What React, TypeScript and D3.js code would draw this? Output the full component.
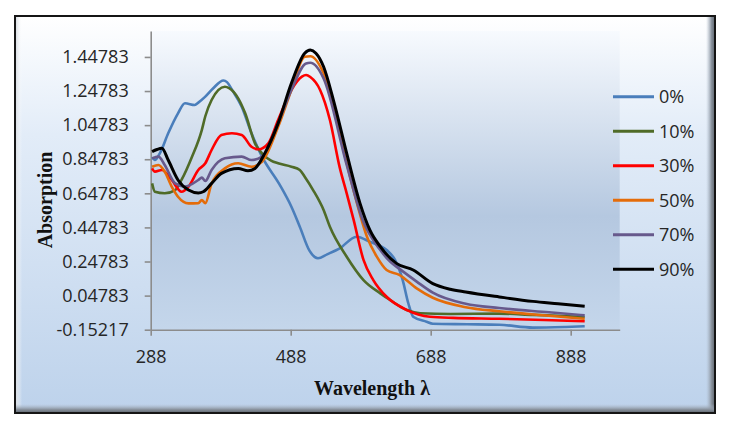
import React, { useRef, useEffect } from 'react';
import * as d3 from 'd3';

type Pt = [number, number];

// wavelength (nm) -> absorption
const abs0: Pt[] = [
  [290, 0.86], [294, 0.843], [301, 0.882], [313, 1.0], [327, 1.117], [337, 1.176], [351, 1.166],
  [356, 1.18], [366, 1.215], [377, 1.263], [392, 1.31], [397, 1.3],
  [405, 1.25], [418, 1.156], [432, 1.0], [447, 0.863], [472, 0.7], [489, 0.569], [501, 0.452],
  [515, 0.31], [527, 0.267], [540, 0.29], [558, 0.325], [582, 0.393], [601, 0.364], [625, 0.315],
  [637, 0.257], [648, 0.139], [656, 0.003], [663, -0.076], [682, -0.105], [691, -0.117],
  [740, -0.12], [786, -0.123], [834, -0.14], [881, -0.136], [908, -0.132],
];
const abs10: Pt[] = [
  [290, 0.706], [294, 0.657], [308, 0.648], [323, 0.667], [332, 0.726], [347, 0.862], [361, 1.019],
  [366, 1.1], [375, 1.195], [394, 1.273], [400, 1.265], [413, 1.205],
  [423, 1.117], [437, 0.941], [449, 0.873], [460, 0.84], [470, 0.824], [489, 0.804], [501, 0.785],
  [508, 0.745], [520, 0.667], [535, 0.55], [544, 0.452], [568, 0.276], [592, 0.139], [616, 0.061],
  [630, 0.022], [654, -0.037], [673, -0.056], [716, -0.06], [786, -0.058], [834, -0.065],
  [870, -0.07], [908, -0.078],
];
const abs30: Pt[] = [
  [290, 0.794], [294, 0.775], [304, 0.785], [318, 0.726], [332, 0.657], [342, 0.687], [356, 0.785],
  [366, 0.824], [375, 0.902], [389, 0.99], [404, 1.0], [418, 0.99], [432, 0.921],
  [442, 0.906], [456, 0.941], [470, 1.078], [489, 1.254], [504, 1.332], [510, 1.342], [516, 1.33],
  [530, 1.254], [544, 1.078], [558, 0.8], [568, 0.648], [578, 0.491], [592, 0.257], [606, 0.139],
  [625, 0.041], [654, -0.037], [687, -0.076], [720, -0.083], [786, -0.088], [850, -0.095],
  [908, -0.103],
];
const abs50: Pt[] = [
  [290, 0.804], [299, 0.814], [308, 0.775], [318, 0.687], [327, 0.628], [342, 0.589], [356, 0.59],
  [361, 0.608], [366, 0.59], [375, 0.706], [394, 0.794], [413, 0.824], [432, 0.804], [447, 0.833],
  [470, 1.038], [489, 1.254], [508, 1.449], [516, 1.452], [535, 1.352], [568, 0.824], [582, 0.6],
  [597, 0.393], [611, 0.276], [625, 0.198], [643, 0.17], [668, 0.09], [691, 0.035], [738, -0.02],
  [786, -0.044], [857, -0.07], [908, -0.088],
];
const abs70: Pt[] = [
  [290, 0.853], [299, 0.863], [308, 0.814], [323, 0.706], [337, 0.687], [356, 0.726], [361, 0.74],
  [366, 0.72], [375, 0.785], [394, 0.853], [418, 0.863], [432, 0.843], [447, 0.863], [470, 1.058],
  [489, 1.254], [510, 1.41], [516, 1.414], [535, 1.322], [568, 0.814], [590, 0.5], [616, 0.315],
  [630, 0.247], [643, 0.206], [668, 0.13], [691, 0.065], [738, 0.0], [786, -0.025], [857, -0.05],
  [908, -0.068],
];
const abs90: Pt[] = [
  [290, 0.892], [297, 0.905], [304, 0.912], [313, 0.843], [327, 0.726], [342, 0.667], [356, 0.65],
  [363, 0.657], [375, 0.706], [389, 0.765], [413, 0.794], [427, 0.78], [437, 0.794],
  [451, 0.882], [470, 1.058], [489, 1.293], [508, 1.469], [516, 1.488], [524, 1.47], [535, 1.39],
  [549, 1.195], [568, 0.882], [587, 0.589], [601, 0.433], [616, 0.335], [639, 0.237], [663, 0.198],
  [691, 0.118], [716, 0.085], [738, 0.069], [786, 0.04], [834, 0.014], [870, 0.0], [908, -0.015],
];

const seriesData = [abs0, abs10, abs30, abs50, abs70, abs90];
const seriesNames = ['0%', '10%', '30%', '50%', '70%', '90%'];
const seriesColors = ['#4A7EBB', '#4F6B28', '#FF0000', '#E46C0A', '#67598C', '#000000'];

const xTicks = [288, 488, 688, 888];
const yTicks = [-0.15217, 0.04783, 0.24783, 0.44783, 0.64783, 0.84783, 1.04783, 1.24783, 1.44783];
const xDomain: Pt = [288, 958];
const yDomain: Pt = [-0.15217, 1.6];

const W = 732;
const H = 424;

export default function App() {
  const svgRef = useRef<SVGSVGElement>(null);

  useEffect(() => {
    if (!svgRef.current) return;
    const svg = d3.select(svgRef.current);
    svg.selectAll('*').remove();

    const plot = { left: 150.7, top: 31, right: 619.7, bottom: 329.7 };
    const frame = { x: 15, y: 16, w: 700, h: 397 };

    const defs = svg.append('defs');
    const outerGrad = defs.append('linearGradient').attr('id', 'outerGrad')
      .attr('x1', 0).attr('y1', 0).attr('x2', 0).attr('y2', 1);
    outerGrad.append('stop').attr('offset', '0%').attr('stop-color', '#FFFFFF');
    outerGrad.append('stop').attr('offset', '30%').attr('stop-color', '#E2ECF8');
    outerGrad.append('stop').attr('offset', '100%').attr('stop-color', '#BDD2EB');

    const plotGrad = defs.append('linearGradient').attr('id', 'plotGrad')
      .attr('x1', 0).attr('y1', 0).attr('x2', 0).attr('y2', 1);
    plotGrad.append('stop').attr('offset', '0%').attr('stop-color', '#F7FAFE');
    plotGrad.append('stop').attr('offset', '62%').attr('stop-color', '#B5C8E0');
    plotGrad.append('stop').attr('offset', '100%').attr('stop-color', '#C4D6EB');

    const bevelR = defs.append('linearGradient').attr('id', 'bevelR')
      .attr('x1', 0).attr('y1', 0).attr('x2', 1).attr('y2', 0);
    bevelR.append('stop').attr('offset', '0%').attr('stop-color', '#AEBBCB').attr('stop-opacity', 0);
    bevelR.append('stop').attr('offset', '60%').attr('stop-color', '#8A939E');
    bevelR.append('stop').attr('offset', '100%').attr('stop-color', '#5C636B');

    const bevelB = defs.append('linearGradient').attr('id', 'bevelB')
      .attr('x1', 0).attr('y1', 0).attr('x2', 0).attr('y2', 1);
    bevelB.append('stop').attr('offset', '0%').attr('stop-color', '#AEBBCB').attr('stop-opacity', 0);
    bevelB.append('stop').attr('offset', '60%').attr('stop-color', '#8A939E');
    bevelB.append('stop').attr('offset', '100%').attr('stop-color', '#5C636B');

    const bevelL = defs.append('linearGradient').attr('id', 'bevelL')
      .attr('x1', 0).attr('y1', 0).attr('x2', 1).attr('y2', 0);
    bevelL.append('stop').attr('offset', '0%').attr('stop-color', '#D9DEE4');
    bevelL.append('stop').attr('offset', '100%').attr('stop-color', '#FFFFFF').attr('stop-opacity', 0);

    svg.append('rect').attr('width', W).attr('height', H).attr('fill', '#FFFFFF');

    // chart frame with bevel
    svg.append('rect').attr('x', frame.x).attr('y', frame.y).attr('width', frame.w).attr('height', frame.h)
      .attr('fill', 'url(#outerGrad)');
    svg.append('rect').attr('x', frame.x + 1).attr('y', frame.y).attr('width', 6).attr('height', frame.h)
      .attr('fill', 'url(#bevelL)');
    svg.append('rect').attr('x', frame.x + frame.w - 9).attr('y', frame.y).attr('width', 9).attr('height', frame.h)
      .attr('fill', 'url(#bevelR)');
    svg.append('rect').attr('x', frame.x).attr('y', frame.y + frame.h - 9).attr('width', frame.w).attr('height', 9)
      .attr('fill', 'url(#bevelB)');
    svg.append('rect').attr('x', frame.x).attr('y', frame.y).attr('width', frame.w).attr('height', frame.h)
      .attr('fill', 'none').attr('stroke', '#151515').attr('stroke-width', 2);

    // plot area
    svg.append('rect').attr('x', plot.left).attr('y', plot.top)
      .attr('width', plot.right - plot.left).attr('height', plot.bottom - plot.top)
      .attr('fill', 'url(#plotGrad)');

    const x = d3.scaleLinear().domain(xDomain).range([plot.left, plot.right]);
    const y = d3.scaleLinear().domain(yDomain).range([plot.bottom, plot.top]);

    const tickFont = '"Open Sans", sans-serif';

    const yAxis = svg.append('g').attr('transform', `translate(${plot.left},0)`)
      .call(d3.axisLeft(y).tickValues(yTicks).tickSize(6).tickSizeOuter(0).tickPadding(16)
        .tickFormat((d) => (d as number).toFixed(5)));
    const xAxis = svg.append('g').attr('transform', `translate(0,${plot.bottom})`)
      .call(d3.axisBottom(x).tickValues(xTicks).tickSize(6).tickSizeOuter(0).tickPadding(15)
        .tickFormat((d) => String(d)));

    [yAxis, xAxis].forEach((ax) => {
      ax.select('.domain').attr('stroke', '#8C8C8C').attr('stroke-width', 1.6);
      ax.selectAll('.tick line').attr('stroke', '#8C8C8C').attr('stroke-width', 1.6);
      ax.selectAll('.tick text').attr('fill', '#262626').style('font-family', tickFont).style('font-size', '18px');
    });

    // series lines
    const line = d3.line<Pt>()
      .x((d) => x(d[0]))
      .y((d) => y(d[1]))
      .curve(d3.curveMonotoneX);

    seriesData.forEach((data, i) => {
      svg.append('path')
        .datum(data)
        .attr('fill', 'none')
        .attr('stroke', seriesColors[i])
        .attr('stroke-width', i === 5 ? 3 : 2.6)
        .attr('stroke-linejoin', 'round')
        .attr('d', line);
    });

    // legend
    const legend = svg.append('g').attr('transform', 'translate(613,96.7)');
    seriesNames.forEach((name, i) => {
      const g = legend.append('g').attr('transform', `translate(0,${i * 34.5})`);
      g.append('line').attr('x1', 0).attr('x2', 41).attr('y1', 0).attr('y2', 0)
        .attr('stroke', seriesColors[i]).attr('stroke-width', 3);
      g.append('text').attr('x', 46).attr('y', 0).attr('dy', '0.36em')
        .attr('fill', '#262626').style('font-family', tickFont).style('font-size', '18px')
        .text(name);
    });

    // axis titles
    svg.append('text')
      .attr('x', 372).attr('y', 395)
      .attr('text-anchor', 'middle')
      .style('font-family', '"Liberation Serif", "Times New Roman", serif')
      .style('font-weight', 'bold').style('font-size', '20px')
      .attr('fill', '#111')
      .text('Wavelength λ');

    svg.append('text')
      .attr('transform', 'translate(52,200) rotate(-90)')
      .attr('text-anchor', 'middle')
      .style('font-family', '"Liberation Serif", "Times New Roman", serif')
      .style('font-weight', 'bold').style('font-size', '20px')
      .attr('fill', '#111')
      .text('Absorption');
  }, []);

  return (
    <svg ref={svgRef} width={W} height={H}
      style={{ position: 'absolute', left: 0, top: 0, display: 'block' }} />
  );
}
